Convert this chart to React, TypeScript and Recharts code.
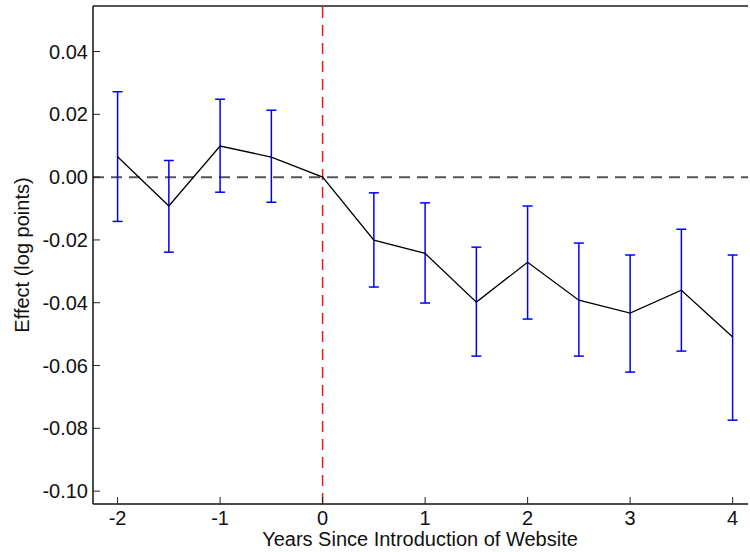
import React from "react";
import {
  ComposedChart,
  Line,
  XAxis,
  YAxis,
  ErrorBar,
  ReferenceLine,
  Label,
} from "recharts";

// Event-study estimates
const years = [-2, -1.5, -1, -0.5, 0, 0.5, 1, 1.5, 2, 2.5, 3, 3.5, 4];
const effect = [0.0065, -0.0092, 0.0099, 0.0064, 0, -0.0201, -0.0243, -0.0398, -0.0271, -0.0392, -0.0433, -0.036, -0.0509];
const upper = [0.0272, 0.0053, 0.0248, 0.0213, 0, -0.005, -0.0082, -0.0223, -0.0092, -0.021, -0.0248, -0.0166, -0.0248];
const lower = [-0.0141, -0.0239, -0.0048, -0.008, 0, -0.035, -0.0401, -0.057, -0.0452, -0.057, -0.0621, -0.0554, -0.0774];

const xTicks = [-2, -1, 0, 1, 2, 3, 4];
const yTicks = [-0.1, -0.08, -0.06, -0.04, -0.02, 0, 0.02, 0.04];

const X_DOMAIN: [number, number] = [-2.24, 4.15];
const Y_DOMAIN: [number, number] = [-0.1041, 0.0545];

const FONT = "'Liberation Sans', Arial, Helvetica, sans-serif";
const AXIS_LEFT = 93;
const AXIS_BOTTOM = 504;

const data = years.map((x, i) => ({
  x,
  y: effect[i],
  // asymmetric error: [below, above]
  err: i === 4 ? undefined : [effect[i] - lower[i], upper[i] - effect[i]],
}));

function YTick(props: any) {
  const { y, payload } = props;
  return (
    <g>
      <line x1={AXIS_LEFT} x2={AXIS_LEFT + 7} y1={y} y2={y} stroke="#222" strokeWidth={1} />
      <text x={AXIS_LEFT - 5} y={y + 7} textAnchor="end" fontSize={20} fontFamily={FONT} fill="#111">
        {Number(payload.value).toFixed(2)}
      </text>
    </g>
  );
}

function XTick(props: any) {
  const { x, payload } = props;
  return (
    <g>
      <line x1={x} x2={x} y1={AXIS_BOTTOM} y2={AXIS_BOTTOM - 7} stroke="#222" strokeWidth={1} />
      <text x={x} y={525} textAnchor="middle" fontSize={20} fontFamily={FONT} fill="#111">
        {payload.value}
      </text>
    </g>
  );
}

export default function App() {
  return (
    <div style={{ position: "absolute", left: 0, top: 0, background: "#fff" }}>
      <ComposedChart
        width={750}
        height={552}
        data={data}
        margin={{ top: 6, right: 2, bottom: 0, left: 0 }}
      >
        <XAxis
          dataKey="x"
          type="number"
          domain={X_DOMAIN}
          ticks={xTicks}
          allowDataOverflow
          height={48}
          tickLine={false}
          tick={<XTick />}
          axisLine={{ stroke: "#111", strokeWidth: 1.5 }}
        >
          <Label
            content={() => (
              <text x={420} y={546} textAnchor="middle" fontSize={20} fontFamily={FONT} fill="#111">
                Years Since Introduction of Website
              </text>
            )}
          />
        </XAxis>
        <YAxis
          type="number"
          domain={Y_DOMAIN}
          ticks={yTicks}
          allowDataOverflow
          width={93}
          tickLine={false}
          tick={<YTick />}
          axisLine={{ stroke: "#111", strokeWidth: 1.5 }}
        >
          <Label
            content={() => (
              <text
                x={29}
                y={255}
                textAnchor="middle"
                fontSize={20}
                fontFamily={FONT}
                fill="#111"
                transform="rotate(-90, 29, 255)"
              >
                Effect (log points)
              </text>
            )}
          />
        </YAxis>
        <ReferenceLine y={Y_DOMAIN[1]} stroke="#555" strokeWidth={2} />
        <ReferenceLine y={0} stroke="#555" strokeWidth={2} strokeDasharray="11 7" />
        <ReferenceLine x={0} stroke="#e31a1c" strokeWidth={1.5} strokeDasharray="11 7" />
        <Line
          dataKey="y"
          type="linear"
          stroke="#000"
          strokeWidth={1.3}
          dot={false}
          activeDot={false}
          isAnimationActive={false}
        >
          <ErrorBar
            dataKey="err"
            direction="y"
            width={5}
            stroke="#0000ff"
            strokeWidth={1.5}
            isAnimationActive={false}
          />
        </Line>
      </ComposedChart>
    </div>
  );
}
